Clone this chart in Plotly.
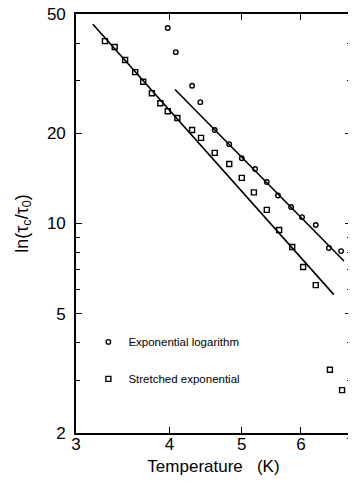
import plotly.graph_objects as go
import math

# Exponential logarithm (circles)
circ_T = [3.98, 4.08, 4.29, 4.40, 4.60, 4.81, 5.00, 5.21, 5.40, 5.59, 5.82, 6.02, 6.28, 6.54, 6.79]
circ_v = [44.9, 37.3, 28.8, 25.4, 20.5, 18.4, 16.5, 15.2, 13.75, 12.4, 11.35, 10.5, 9.88, 8.28, 8.09]

# Stretched exponential (squares)
sq_T = [3.28, 3.38, 3.49, 3.60, 3.69, 3.79, 3.89, 3.98, 4.10, 4.29, 4.41, 4.60, 4.81,
        5.00, 5.19, 5.40, 5.61, 5.84, 6.04, 6.28, 6.56, 6.81]
sq_v = [40.6, 38.8, 35.1, 32.0, 29.7, 27.2, 25.2, 23.7, 22.5, 20.5, 19.3, 17.2, 15.8,
        14.2, 12.7, 11.1, 9.51, 8.35, 7.16, 6.23, 3.25, 2.78]

# Fit lines (endpoints)
fit_lo_T = [3.16, 6.64]
fit_lo_v = [46.2, 5.79]
fit_hi_T = [4.07, 6.85]
fit_hi_v = [28.0, 7.5]

x_ticks = [3, 4, 5, 6, 7]
y_ticks = [2, 5, 10, 20, 50]
y_minor = [3, 4, 6, 7, 8, 9, 30, 40]

fig = go.Figure()
fig.add_trace(go.Scatter(x=fit_lo_T, y=fit_lo_v, mode="lines",
                         line=dict(color="black", width=1.6), showlegend=False))
fig.add_trace(go.Scatter(x=fit_hi_T, y=fit_hi_v, mode="lines",
                         line=dict(color="black", width=1.6), showlegend=False))
fig.add_trace(go.Scatter(x=circ_T, y=circ_v, mode="markers", name="Exponential logarithm",
                         legendgroup="a",
                         marker=dict(symbol="circle-open", size=4.5, color="black",
                                     line=dict(width=1.4, color="black"))))
fig.add_trace(go.Scatter(x=sq_T, y=sq_v, mode="markers", name="Stretched exponential",
                         legendgroup="b",
                         marker=dict(symbol="square-open", size=5, color="black",
                                     line=dict(width=1.4, color="black"))))

fig.update_layout(
    width=348, height=469,
    margin=dict(l=68, r=5, t=6, b=44),
    paper_bgcolor="white", plot_bgcolor="white",
    font=dict(family="Liberation Sans, Arial, sans-serif", color="black", size=14),
    legend=dict(x=0.045, y=0.252, xanchor="left", yanchor="top",
                bgcolor="rgba(0,0,0,0)", itemwidth=30, tracegroupgap=18,
                font=dict(size=11.5, family="Liberation Sans Narrow, Liberation Sans, sans-serif"),
                itemsizing="trace"),
)
fig.update_xaxes(
    type="log", range=[math.log10(3) - 1e-5, math.log10(7) + 1e-5],
    tickmode="array", tickvals=x_ticks, ticktext=[str(v) for v in x_ticks],
    ticks="inside", ticklen=6, tickwidth=1.2, tickcolor="black",
    ticklabeloverflow="allow", ticklabelstandoff=-5, automargin=False,
    showline=True, linecolor="black", linewidth=1.6, mirror="ticks",
    showgrid=False, zeroline=False,
    tickfont=dict(size=17),
    title=dict(text="Temperature   (K)", font=dict(size=17), standoff=7),
)
fig.update_yaxes(
    type="log", range=[math.log10(2) - 1e-5, math.log10(50) + 1e-5],
    tickmode="array", tickvals=y_ticks, ticktext=[str(v) for v in y_ticks],
    ticks="inside", ticklen=6, tickwidth=1.2, tickcolor="black",
    ticklabelstandoff=5, automargin=False, ticklabeloverflow="allow",
    minor=dict(tickmode="array", tickvals=y_minor, ticks="inside", ticklen=4,
               tickwidth=1, tickcolor="black", showgrid=False),
    showline=True, linecolor="black", linewidth=1.6, mirror="ticks",
    showgrid=False, zeroline=False,
    tickfont=dict(size=17),
    title=dict(text="ln(τ<sub>c</sub>/τ<sub>0</sub>)", font=dict(size=18), standoff=14),
)

fig.write_html("out.html")
